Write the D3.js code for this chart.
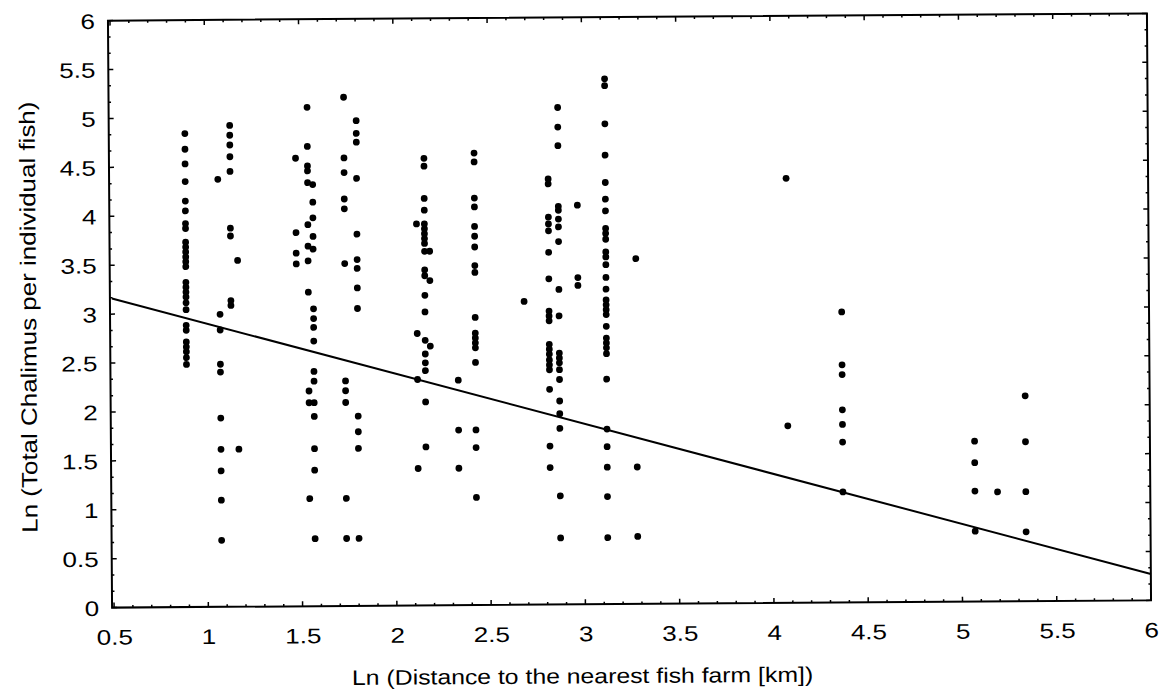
<!DOCTYPE html>
<html>
<head>
<meta charset="utf-8">
<script src="https://cdn.jsdelivr.net/npm/d3@7"></script>
<style>
  html, body { margin: 0; padding: 0; background: #fff; }
  svg { display: block; }
  text { font-family: "Liberation Sans", Arial, Helvetica, sans-serif; fill: #000; }
</style>
</head>
<body>
<svg id="chart" width="1160" height="694"></svg>
<script>
// ---- data ----
const columnX = [0.893, 1.066, 1.073, 1.131, 1.168, 1.479, 1.542, 1.569, 1.736, 1.802,
                 2.118, 2.160, 2.187, 2.334, 2.426, 2.686, 2.818, 2.871, 2.972, 3.121,
                 3.280, 4.08, 4.37, 5.07, 5.19, 5.34];
const columnY = [
  [4.84,4.68,4.53,4.35,4.15,4.05,3.92,3.87,3.73,3.68,3.63,3.58,3.53,3.48,3.32,3.27,3.22,3.17,3.11,3.04,2.88,2.83,2.71,2.66,2.61,2.55,2.48],
  [4.37],
  [2.99,2.83,2.48,2.40,1.93,1.61,1.39,1.09,0.68],
  [4.92,4.82,4.72,4.60,4.45,3.87,3.79,3.13,3.08],
  [3.54,1.61],
  [4.58,3.82,3.61,3.50],
  [5.10,4.70,4.50,4.45,4.33,3.90,3.68,3.53,3.21,2.20,2.08,1.10],
  [4.31,4.13,3.97,3.78,3.65,3.04,2.94,2.85,2.71,2.40,2.30,2.08,1.94,1.61,1.39,0.69],
  [5.20,4.58,4.43,4.16,4.06,3.50,2.30,2.20,2.08,1.10,0.69],
  [4.96,4.83,4.74,4.37,3.80,3.54,3.45,3.25,3.04,1.94,1.78,1.61,0.69],
  [3.90,2.78,2.31,1.40],
  [4.57,4.49,4.16,4.04,3.90,3.85,3.80,3.75,3.70,3.62,3.43,3.37,3.17,3.00,2.71,2.57,2.48,2.40,2.08,1.62],
  [3.62,3.32,2.65],
  [2.30,1.79,1.40],
  [4.62,4.53,4.16,4.07,3.87,3.77,3.66,3.47,3.40,2.94,2.78,2.73,2.68,2.63,2.48,1.79,1.61,1.10],
  [3.10],
  [4.35,4.30,3.96,3.89,3.82,3.60,3.33,3.00,2.95,2.90,2.66,2.61,2.56,2.50,2.45,2.40,2.20,1.62,1.40],
  [5.08,4.88,4.69,4.07,4.03,3.94,3.86,3.71,3.22,2.95,2.57,2.52,2.47,2.40,2.30,2.08,1.95,1.80,1.11,0.68],
  [4.08,3.34,3.26],
  [5.37,5.30,4.91,4.59,4.31,4.14,4.02,3.84,3.79,3.73,3.60,3.55,3.47,3.34,3.22,3.11,3.06,3.01,2.96,2.84,2.72,2.67,2.62,2.56,2.30,1.79,1.61,1.40,1.10,0.68],
  [3.53,1.40,0.69],
  [4.34,1.81],
  [2.97,2.43,2.33,1.97,1.82,1.64,1.13],
  [1.64,1.42,1.13,0.72],
  [1.12],
  [2.10,1.63,1.12,0.71]
];
// regression line endpoints
const fitX = [0.5, 6];
const fitY = [3.16, 0.27];

const xTickValues = [0.5, 1, 1.5, 2, 2.5, 3, 3.5, 4, 4.5, 5, 5.5, 6];
const xTickLabels = ["0.5","1","1.5","2","2.5","3","3.5","4","4.5","5","5.5","6"];
const yTickValues = [0, 0.5, 1, 1.5, 2, 2.5, 3, 3.5, 4, 4.5, 5, 5.5, 6];
const yTickLabels = ["0","0.5","1","1.5","2","2.5","3","3.5","4","4.5","5","5.5","6"];
const xTitle = "Ln (Distance to the nearest fish farm [km])";
const yTitle = "Ln (Total Chalimus per individual fish)";

// ---- layout ----
const L = 112, R = 1149, T = 17, B = 604;
const x = d3.scaleLinear().domain([0.5, 6]).range([L, R]);
const y = d3.scaleLinear().domain([0, 6]).range([B, T]);
const stretch = "scale(1.24,1)";

const svg = d3.select("#chart");
const g = svg.append("g").attr("transform", "rotate(-0.4, 630, 310)");

// frame
g.append("rect").attr("x", L - 2).attr("y", T).attr("width", R - L + 2).attr("height", B - T)
  .attr("fill", "none").attr("stroke", "#000").attr("stroke-width", 2);

// minor / major ticks pointing inward on all sides
const xMinor = d3.range(0.5, 6.0001, 0.1);
const yMinor = d3.range(0, 6.0001, 0.5 / 3);
const tickG = g.append("g").attr("stroke", "#000").attr("stroke-width", 1.5);
xMinor.forEach(v => {
  const major = Math.abs(v * 2 - Math.round(v * 2)) < 1e-6;
  const len = major ? 5 : 2.5;
  tickG.append("line").attr("x1", x(v)).attr("x2", x(v)).attr("y1", B).attr("y2", B - len);
  tickG.append("line").attr("x1", x(v)).attr("x2", x(v)).attr("y1", T).attr("y2", T + len);
});
yMinor.forEach(v => {
  const major = Math.abs(v * 2 - Math.round(v * 2)) < 1e-6;
  const len = major ? 5 : 2.5;
  tickG.append("line").attr("x1", L - 2).attr("x2", L - 2 + len).attr("y1", y(v)).attr("y2", y(v));
  tickG.append("line").attr("x1", R).attr("x2", R - len).attr("y1", y(v)).attr("y2", y(v));
});

// tick labels via d3 axes (axis lines hidden; frame drawn above)
const xAxis = d3.axisBottom(x).tickValues(xTickValues)
  .tickFormat((d, i) => xTickLabels[i]).tickSize(0).tickPadding(0);
const xa = g.append("g").attr("transform", `translate(0,${B})`).call(xAxis);
xa.select(".domain").remove();
xa.selectAll("text").attr("dy", null).attr("y", 0)
  .attr("transform", `translate(0,37) ${stretch}`).attr("font-size", 21)
  .style("font-family", '"Liberation Sans", Arial, sans-serif');

const yAxis = d3.axisLeft(y).tickValues(yTickValues)
  .tickFormat((d, i) => yTickLabels[i]).tickSize(0).tickPadding(0);
const ya = g.append("g").attr("transform", `translate(${L - 15},0)`).call(yAxis);
ya.select(".domain").remove();
ya.selectAll("text").attr("x", 0).attr("dy", "0.36em").attr("font-size", 21)
  .attr("transform", stretch)
  .style("font-family", '"Liberation Sans", Arial, sans-serif');

// titles
g.append("text").attr("transform", `translate(580,683) scale(1.18,1)`).attr("text-anchor", "middle")
  .attr("font-size", 21).text(xTitle);
g.append("text").attr("transform", `translate(36,313) rotate(-90) scale(1.18,1)`).attr("text-anchor", "middle")
  .attr("font-size", 22).text(yTitle);

// regression line
const line = d3.line().x(d => x(d[0])).y(d => y(d[1]));
g.append("path").datum(fitX.map((v, i) => [v, fitY[i]])).attr("d", line)
  .attr("fill", "none").attr("stroke", "#000").attr("stroke-width", 2);

// points
const pts = [];
columnX.forEach((cx, i) => columnY[i].forEach(v => pts.push([cx, v])));
g.append("g").selectAll("circle").data(pts).join("circle")
  .attr("cx", d => x(d[0])).attr("cy", d => y(d[1])).attr("r", 3.4).attr("fill", "#000");
</script>
</body>
</html>
